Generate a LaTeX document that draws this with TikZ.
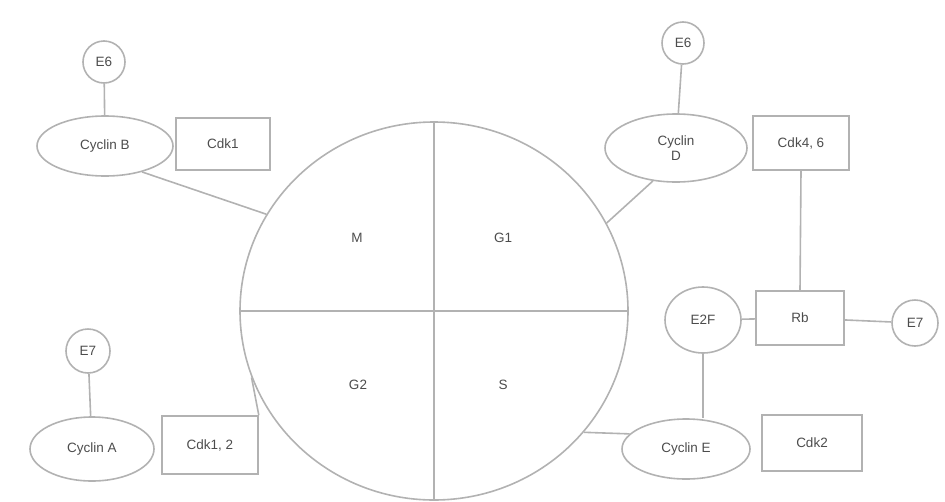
\documentclass[tikz,border=0pt]{standalone}
\usepackage{fontspec}
\setmainfont{Liberation Sans}
\usetikzlibrary{shapes.geometric}
\begin{document}
\begin{tikzpicture}[x=1pt,y=-1pt,
  every node/.style={font=\fontsize{13.5}{15}\selectfont, text=black!70},
  ln/.style={draw=black!30, line width=1.6pt},
  cyc/.style={ellipse, ln, inner sep=0pt},
  cdk/.style={rectangle, ln, inner sep=0pt},
  prot/.style={circle, ln, inner sep=0pt, minimum size=42pt},
  phase/.style={inner sep=1pt}]
\useasboundingbox (0,0) rectangle (945,501);
% cell cycle wheel
\node[ellipse, ln, inner sep=0pt, minimum width=388pt, minimum height=378pt] (cc) at (434,311) {};
\draw[ln] (cc.north) -- (cc.south);
\draw[ln] (cc.west) -- (cc.east);
\node[phase] (pm)  at (357,238) {M};
\node[phase] (pg1) at (503,238) {G1};
\node[phase] (pg2) at (358,385) {G2};
\node[phase] (ps)  at (503,385) {S};
% top left
\node[prot] (e6a) at (104,62) {E6};
\node[cyc, minimum width=136pt, minimum height=60pt] (cb) at (105,146) {Cyclin B};
\node[cdk, minimum width=94pt, minimum height=52pt] (k1) at (223,144) {Cdk1};
% top right
\node[prot] (e6b) at (683,43) {E6};
\node[cyc, minimum width=142pt, minimum height=68pt, align=center] (cd) at (676,148) {Cyclin\\D};
\node[cdk, minimum width=96pt, minimum height=54pt] (k46) at (801,143) {Cdk4, 6};
% middle right
\node[cyc, minimum width=76pt, minimum height=66pt] (e2f) at (703,320) {E2F};
\node[cdk, minimum width=88pt, minimum height=54pt] (rb) at (800,318) {Rb};
\node[prot, minimum size=46pt] (e7b) at (915,323) {E7};
% bottom right
\node[cyc, minimum width=128pt, minimum height=60pt] (ce) at (686,449) {Cyclin E};
\node[cdk, minimum width=100pt, minimum height=56pt] (k2) at (812,443) {Cdk2};
% bottom left
\node[prot, minimum size=44pt] (e7a) at (88,351) {E7};
\node[cyc, minimum width=124pt, minimum height=64pt] (ca) at (92,449) {Cyclin A};
\node[cdk, minimum width=96pt, minimum height=58pt] (k12) at (210,445) {Cdk1, 2};
% connectors
\draw[ln] (e6a) -- (cb);
\draw[ln] (e6b) -- (cd);
\draw[ln] (e7a) -- (ca);
\draw[ln] (cb.-35) -- (cc.150);
\draw[ln] (cd.235) -- (cc.27);
\draw[ln] (k12.north east) -- (cc.200);
\draw[ln] (ce.165) -- (cc.-39);
\draw[ln] (k46.south) -- (rb.north);
\draw[ln] (e2f) -- (rb);
\draw[ln] (rb) -- (e7b);
\draw[ln] (e2f.south) -- (e2f.south |- ce.north);
\end{tikzpicture}
\end{document}
